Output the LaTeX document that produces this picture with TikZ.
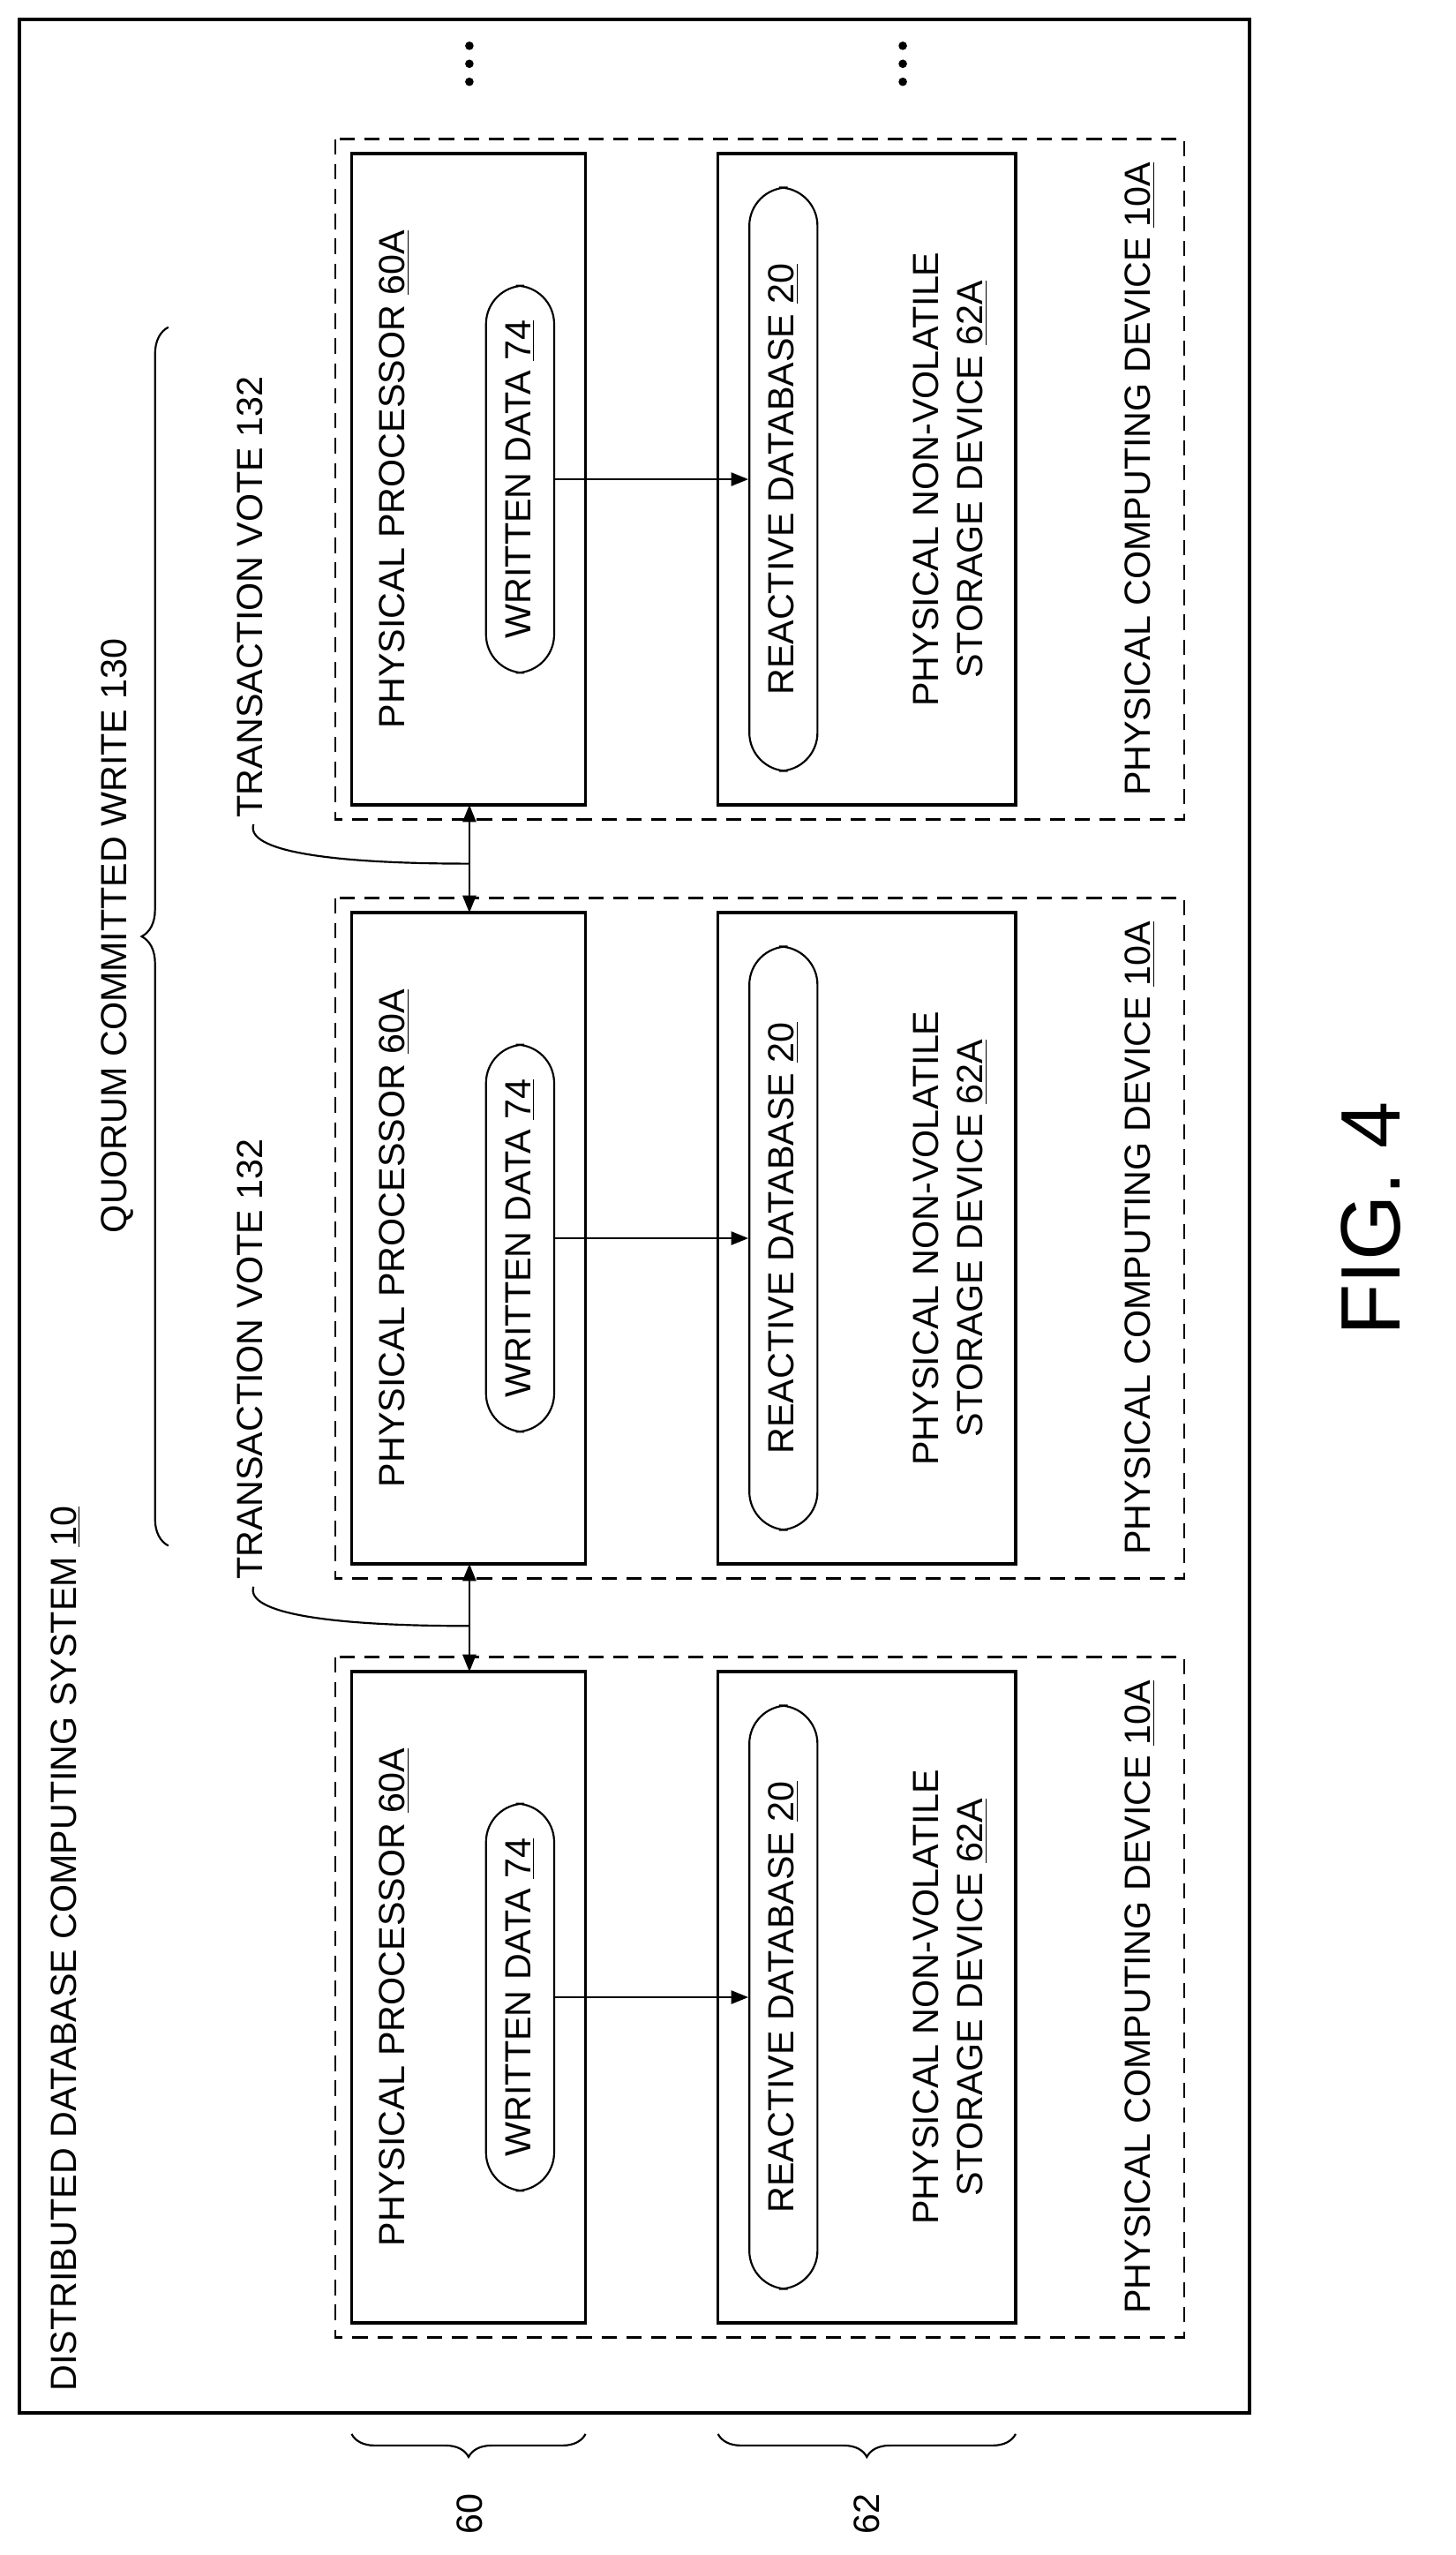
\documentclass[tikz,border=0pt]{standalone}
\usepackage{fontspec}
\setmainfont{Liberation Sans}
\usetikzlibrary{decorations.pathreplacing,arrows.meta}
\begin{document}
\begin{tikzpicture}[
    x=0.03cm, y=0.03cm,
    box/.style={draw, line width=1.6pt},
    pill/.style={draw, line width=1pt, rounded corners=20\pgflinewidth},
    devbox/.style={draw, line width=1pt, dash pattern=on 8pt off 5pt},
    lbl/.style={rotate=90, font=\fontsize{19}{23}\selectfont, align=center, inner sep=0pt},
    >={Triangle[length=9pt,width=7pt]}
]
\useasboundingbox (0,0) rectangle (890,-1562);
% outer system frame
\draw[line width=1.8pt] (12,-12) rectangle (764,-1475);
\node[lbl, anchor=west] (sys) at (40,-1462) {DISTRIBUTED DATABASE COMPUTING SYSTEM \underline{10}};

% three physical computing devices
\foreach \i/\yc in {1/293, 2/757, 3/1221} {
  \draw[devbox] (205,-\yc+208) rectangle (724,-\yc-208);
  \draw[box] (215,-\yc+199) rectangle (358,-\yc-199);
  \draw[box] (439,-\yc+199) rectangle (621,-\yc-199);
  \coordinate (proctop\i) at (287,-\yc+199);
  \coordinate (procbot\i) at (287,-\yc-199);
  \node[lbl] (proc\i) at (241,-\yc) {PHYSICAL PROCESSOR \underline{60A}};
  \node[pill, lbl, minimum width=238\pgflinewidth, minimum height=41\pgflinewidth,
        minimum width=7.1cm, minimum height=1.25cm] (wd\i) at (318,-\yc) {WRITTEN DATA \underline{74}};
  \node[pill, lbl, minimum width=10.7cm, minimum height=1.25cm] (rdb\i) at (479,-\yc) {REACTIVE DATABASE \underline{20}};
  \node[lbl] (stor\i) at (581,-\yc) {PHYSICAL NON-VOLATILE\\STORAGE DEVICE \underline{62A}};
  \node[lbl] (dev\i) at (697,-\yc) {PHYSICAL COMPUTING DEVICE \underline{10A}};
  \draw[->, line width=1pt] (wd\i.south) -- (rdb\i.north);
}

% votes between processors
\draw[<->, line width=1pt] (procbot1) -- (proctop2);
\draw[<->, line width=1pt] (procbot2) -- (proctop3);
\node[lbl, anchor=west] (vote1) at (153,-500) {TRANSACTION VOTE 132};
\node[lbl, anchor=west] (vote2) at (153,-966) {TRANSACTION VOTE 132};
\coordinate (v1) at (287,-528);
\coordinate (v2) at (287,-994);
\draw[line width=1pt] (vote1.west) ++(2,-4) .. controls (150,-520) and (200,-528) .. (v1);
\draw[line width=1pt] (vote2.west) ++(2,-4) .. controls (150,-986) and (200,-994) .. (v2);

% quorum brace
\coordinate (qa) at (103,-945);
\coordinate (qb) at (103,-200);
\draw[line width=1pt, decorate, decoration={brace, amplitude=14pt}] (qa) -- (qb);
\node[lbl] (quorum) at (72,-572) {QUORUM COMMITTED WRITE 130};

% column braces
\coordinate (pa) at (358,-1488);
\coordinate (pb) at (215,-1488);
\coordinate (sa) at (621,-1488);
\coordinate (sb) at (439,-1488);
\draw[line width=1pt, decorate, decoration={brace, amplitude=12pt}] (pa) -- (pb);
\draw[line width=1pt, decorate, decoration={brace, amplitude=12pt}] (sa) -- (sb);
\node[lbl] (n60) at (287,-1537) {60};
\node[lbl] (n62) at (530,-1537) {62};

% continuation dots
\foreach \x in {287, 552} {
  \foreach \d in {28, 39, 50} \fill (\x,-\d) circle (2.6);
}

\node[rotate=90, font=\fontsize{44}{50}\selectfont] (fig) at (838,-745) {FIG. 4};
\end{tikzpicture}
\end{document}
